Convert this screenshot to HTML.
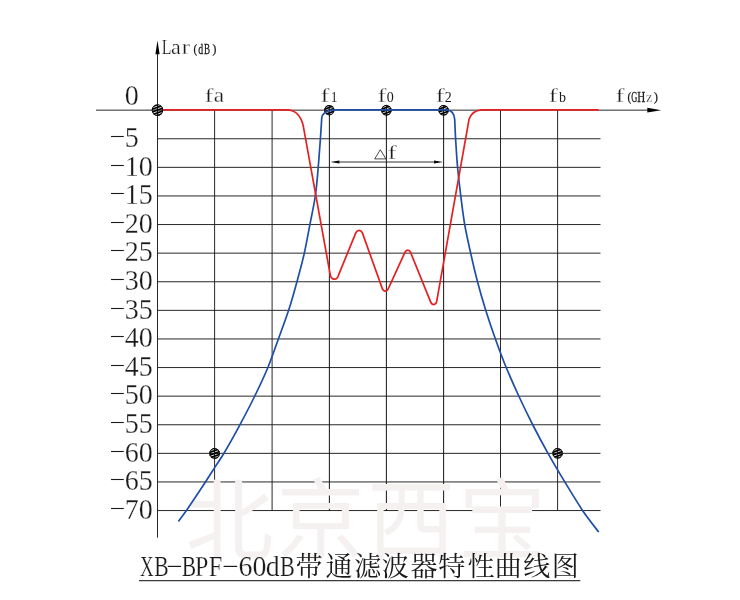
<!DOCTYPE html>
<html><head><meta charset="utf-8"><title>XB-BPF-60dB</title>
<style>
html,body{margin:0;padding:0;background:#fff;}
body{width:740px;height:600px;overflow:hidden;font-family:"Liberation Serif",serif;}
svg{display:block;will-change:transform;}
</style></head><body>
<svg width="740" height="600" viewBox="0 0 740 600">
<rect width="740" height="600" fill="#fff"/>
<g stroke="#1c1c1c" stroke-width="0.95" fill="none">
<line x1="157.5" y1="138.75" x2="600.5" y2="138.75"/>
<line x1="157.5" y1="167.35" x2="600.5" y2="167.35"/>
<line x1="157.5" y1="195.95" x2="600.5" y2="195.95"/>
<line x1="157.5" y1="224.55" x2="600.5" y2="224.55"/>
<line x1="157.5" y1="253.15" x2="600.5" y2="253.15"/>
<line x1="157.5" y1="281.75" x2="600.5" y2="281.75"/>
<line x1="157.5" y1="310.35" x2="600.5" y2="310.35"/>
<line x1="157.5" y1="338.95" x2="600.5" y2="338.95"/>
<line x1="157.5" y1="367.55" x2="600.5" y2="367.55"/>
<line x1="157.5" y1="396.15" x2="600.5" y2="396.15"/>
<line x1="157.5" y1="424.75" x2="600.5" y2="424.75"/>
<line x1="157.5" y1="453.35" x2="600.5" y2="453.35"/>
<line x1="157.5" y1="481.95" x2="600.5" y2="481.95"/>
<line x1="157.5" y1="510.55" x2="600.5" y2="510.55"/>
<line x1="214.60" y1="110.2" x2="214.60" y2="510.6"/>
<line x1="272.10" y1="110.2" x2="272.10" y2="510.6"/>
<line x1="329.40" y1="110.2" x2="329.40" y2="510.6"/>
<line x1="386.40" y1="110.2" x2="386.40" y2="510.6"/>
<line x1="443.60" y1="110.2" x2="443.60" y2="510.6"/>
<line x1="500.50" y1="110.2" x2="500.50" y2="510.6"/>
<line x1="557.60" y1="110.2" x2="557.60" y2="510.6"/>
<line x1="96" y1="110.15" x2="650" y2="110.15"/>
<line x1="157.50" y1="50" x2="157.50" y2="537.6"/>
</g>
<g stroke="#000" stroke-width="0.25">
<line x1="329.40" y1="110.2" x2="329.40" y2="510.6"/>
<line x1="386.40" y1="110.2" x2="386.40" y2="510.6"/>
<line x1="443.60" y1="110.2" x2="443.60" y2="510.6"/>
</g>
<g fill="#000">
<path d="M157.5 40.6 L155.4 54.2 L159.6 54.2Z"/>
<path d="M661.2 110.2 L647.3 107.8 L647.3 112.6Z"/>
<path d="M330.4 162.0 L339.4 160.4 L339.4 163.6Z"/>
<path d="M443 162.0 L434 160.4 L434 163.6Z"/>
</g>
<line x1="336" y1="162.0" x2="437" y2="162.0" stroke="#1c1c1c" stroke-width="0.9"/>
<g fill="#f6f1f1" font-family="'Liberation Sans', 'Noto Sans CJK SC', sans-serif" font-size="88">
<text x="185.5" y="551.5">北</text>
<text x="276.5" y="551.5">京</text>
<text x="367.3" y="551.5">西</text>
<text x="458.3" y="551.5">宝</text>
</g>
<defs><clipPath id="dc"><circle r="5.6"/></clipPath></defs>
<g transform="translate(157.5 110.1)"><circle r="5.7" fill="#000"/><g clip-path="url(#dc)" stroke="#fff" stroke-width="0.8" transform="rotate(-20)"><path d="M-7 -3.9H7M-7 -1.3H7M-7 1.3H7M-7 3.9H7"/></g><circle r="5.3" fill="none" stroke="#000" stroke-width="0.9"/><path d="M-5.7 0H5.7M0 -5.7V5.7" stroke="#000" stroke-width="0.9"/></g>
<g transform="translate(329.3 110.2)"><circle r="5.1" fill="#000"/><g clip-path="url(#dc)" stroke="#fff" stroke-width="0.8" transform="rotate(-20)"><path d="M-7 -3.9H7M-7 -1.3H7M-7 1.3H7M-7 3.9H7"/></g><circle r="4.7" fill="none" stroke="#000" stroke-width="0.9"/><path d="M-5.1 0H5.1M0 -5.1V5.1" stroke="#000" stroke-width="0.9"/></g>
<g transform="translate(386.4 110.2)"><circle r="5.2" fill="#000"/><g clip-path="url(#dc)" stroke="#fff" stroke-width="0.8" transform="rotate(-20)"><path d="M-7 -3.9H7M-7 -1.3H7M-7 1.3H7M-7 3.9H7"/></g><circle r="4.8" fill="none" stroke="#000" stroke-width="0.9"/><path d="M-5.2 0H5.2M0 -5.2V5.2" stroke="#000" stroke-width="0.9"/></g>
<g transform="translate(443.6 110.2)"><circle r="5.2" fill="#000"/><g clip-path="url(#dc)" stroke="#fff" stroke-width="0.8" transform="rotate(-20)"><path d="M-7 -3.9H7M-7 -1.3H7M-7 1.3H7M-7 3.9H7"/></g><circle r="4.8" fill="none" stroke="#000" stroke-width="0.9"/><path d="M-5.2 0H5.2M0 -5.2V5.2" stroke="#000" stroke-width="0.9"/></g>
<g transform="translate(214.6 453.4)"><circle r="5.3" fill="#000"/><g clip-path="url(#dc)" stroke="#fff" stroke-width="0.8" transform="rotate(-20)"><path d="M-7 -3.9H7M-7 -1.3H7M-7 1.3H7M-7 3.9H7"/></g><circle r="4.9" fill="none" stroke="#000" stroke-width="0.9"/><path d="M-5.3 0H5.3M0 -5.3V5.3" stroke="#000" stroke-width="0.9"/></g>
<g transform="translate(557.6 453.3)"><circle r="5.2" fill="#000"/><g clip-path="url(#dc)" stroke="#fff" stroke-width="0.8" transform="rotate(-20)"><path d="M-7 -3.9H7M-7 -1.3H7M-7 1.3H7M-7 3.9H7"/></g><circle r="4.8" fill="none" stroke="#000" stroke-width="0.9"/><path d="M-5.2 0H5.2M0 -5.2V5.2" stroke="#000" stroke-width="0.9"/></g>
<path d="M178.5 521.4 C179.8 519.5 182.9 515.5 186.6 510.2 C190.3 504.9 195.8 496.6 200.5 489.5 C205.2 482.4 210.7 473.7 214.6 467.6 C218.5 461.5 219.9 460.1 224.1 453.0 C228.3 445.9 234.8 434.3 239.9 424.8 C245.0 415.3 250.1 405.6 254.8 396.0 C259.5 386.4 263.9 377.1 267.9 367.5 C271.8 357.9 275.0 348.3 278.5 338.7 C282.0 329.1 285.6 319.6 288.7 310.1 C291.8 300.6 294.4 291.0 297.0 281.5 C299.6 272.0 302.2 262.7 304.3 253.2 C306.4 243.7 308.1 234.1 309.9 224.6 C311.7 215.1 313.9 205.5 315.3 196.0 C316.7 186.5 317.4 177.1 318.2 167.5 C319.0 157.9 319.8 146.8 320.4 138.7 C321.0 130.5 321.5 121.9 321.7 118.6 C321.9 114.5 324.5 110.6 333.5 109.8 L447.0 109.8 C451.2 110.2 454.2 113.4 454.7 119.4 C454.9 122.6 455.1 130.7 455.6 138.7 C456.1 146.7 456.7 157.9 457.6 167.5 C458.5 177.1 459.6 186.7 460.8 196.2 C462.0 205.7 463.1 215.0 464.7 224.5 C466.3 234.0 468.6 243.7 470.7 253.2 C472.8 262.8 475.0 272.2 477.5 281.8 C480.0 291.3 482.8 300.9 485.8 310.5 C488.8 320.1 492.1 329.8 495.5 339.2 C498.9 348.8 502.3 358.0 506.2 367.5 C510.2 377.0 514.6 387.0 519.0 396.5 C523.4 406.0 527.8 415.0 532.6 424.5 C537.4 434.0 542.6 443.7 548.0 453.3 C553.4 462.9 559.0 472.3 564.8 481.9 C570.6 491.5 577.1 502.3 582.7 510.7 C588.4 519.0 596.0 528.5 598.7 532.0" fill="none" stroke="#1f4fa5" stroke-width="1.7" stroke-linejoin="round"/>
<path d="M163 109.8 L288.3 109.8 C294 110.2 300.6 114.5 303.2 125.6 L330.2 274.6 C331.2 280.6 337.2 280.6 338.4 275.4 L355.9 232.6 C357.4 229.6 360.8 229.6 362.3 232.6 L382.3 288.6 C383.4 292 387.2 292 388.3 288.6 L405.0 252.2 C406.2 249.4 409.3 249.4 410.5 252.2 L430.5 301.6 C431.6 305.6 435.8 305.6 436.7 301.4 L469.0 119.6 C471 112.6 476 110.2 481.6 109.8 L598.6 109.8" fill="none" stroke="#e52020" stroke-width="1.7" stroke-linejoin="round"/>
<g font-family="'Liberation Serif', serif" fill="#1a1a1a" stroke="#fff" stroke-width="0.25">
<text transform="translate(124.80 105.40) scale(0.935 1)" font-size="30.0">0</text>
<line x1="111" y1="136.50" x2="123.8" y2="136.50" stroke="#1a1a1a" stroke-width="1.1"/>
<text transform="translate(124.80 147.00) scale(0.935 1)" font-size="30.0">5</text>
<line x1="111" y1="165.50" x2="123.8" y2="165.50" stroke="#1a1a1a" stroke-width="1.1"/>
<text transform="translate(124.80 175.60) scale(0.935 1)" font-size="30.0">1</text>
<text transform="translate(138.80 175.60) scale(0.935 1)" font-size="30.0">0</text>
<line x1="111" y1="193.50" x2="123.8" y2="193.50" stroke="#1a1a1a" stroke-width="1.1"/>
<text transform="translate(124.80 204.20) scale(0.935 1)" font-size="30.0">1</text>
<text transform="translate(138.80 204.20) scale(0.935 1)" font-size="30.0">5</text>
<line x1="111" y1="222.50" x2="123.8" y2="222.50" stroke="#1a1a1a" stroke-width="1.1"/>
<text transform="translate(124.80 232.80) scale(0.935 1)" font-size="30.0">2</text>
<text transform="translate(138.80 232.80) scale(0.935 1)" font-size="30.0">0</text>
<line x1="111" y1="250.50" x2="123.8" y2="250.50" stroke="#1a1a1a" stroke-width="1.1"/>
<text transform="translate(124.80 261.40) scale(0.935 1)" font-size="30.0">2</text>
<text transform="translate(138.80 261.40) scale(0.935 1)" font-size="30.0">5</text>
<line x1="111" y1="279.50" x2="123.8" y2="279.50" stroke="#1a1a1a" stroke-width="1.1"/>
<text transform="translate(124.80 290.00) scale(0.935 1)" font-size="30.0">3</text>
<text transform="translate(138.80 290.00) scale(0.935 1)" font-size="30.0">0</text>
<line x1="111" y1="308.50" x2="123.8" y2="308.50" stroke="#1a1a1a" stroke-width="1.1"/>
<text transform="translate(124.80 318.60) scale(0.935 1)" font-size="30.0">3</text>
<text transform="translate(138.80 318.60) scale(0.935 1)" font-size="30.0">5</text>
<line x1="111" y1="336.50" x2="123.8" y2="336.50" stroke="#1a1a1a" stroke-width="1.1"/>
<text transform="translate(124.80 347.20) scale(0.935 1)" font-size="30.0">4</text>
<text transform="translate(138.80 347.20) scale(0.935 1)" font-size="30.0">0</text>
<line x1="111" y1="365.50" x2="123.8" y2="365.50" stroke="#1a1a1a" stroke-width="1.1"/>
<text transform="translate(124.80 375.80) scale(0.935 1)" font-size="30.0">4</text>
<text transform="translate(138.80 375.80) scale(0.935 1)" font-size="30.0">5</text>
<line x1="111" y1="393.50" x2="123.8" y2="393.50" stroke="#1a1a1a" stroke-width="1.1"/>
<text transform="translate(124.80 404.40) scale(0.935 1)" font-size="30.0">5</text>
<text transform="translate(138.80 404.40) scale(0.935 1)" font-size="30.0">0</text>
<line x1="111" y1="422.50" x2="123.8" y2="422.50" stroke="#1a1a1a" stroke-width="1.1"/>
<text transform="translate(124.80 433.00) scale(0.935 1)" font-size="30.0">5</text>
<text transform="translate(138.80 433.00) scale(0.935 1)" font-size="30.0">5</text>
<line x1="111" y1="451.50" x2="123.8" y2="451.50" stroke="#1a1a1a" stroke-width="1.1"/>
<text transform="translate(124.80 461.60) scale(0.935 1)" font-size="30.0">6</text>
<text transform="translate(138.80 461.60) scale(0.935 1)" font-size="30.0">0</text>
<line x1="111" y1="479.50" x2="123.8" y2="479.50" stroke="#1a1a1a" stroke-width="1.1"/>
<text transform="translate(124.80 490.20) scale(0.935 1)" font-size="30.0">6</text>
<text transform="translate(138.80 490.20) scale(0.935 1)" font-size="30.0">5</text>
<line x1="111" y1="508.50" x2="123.8" y2="508.50" stroke="#1a1a1a" stroke-width="1.1"/>
<text transform="translate(124.80 518.80) scale(0.935 1)" font-size="30.0">7</text>
<text transform="translate(138.80 518.80) scale(0.935 1)" font-size="30.0">0</text>
<text transform="translate(161.70 54.10) scale(0.790 1)" font-size="20.0">L</text>
<text transform="translate(171.00 54.10) scale(1.100 1)" font-size="20.0">a</text>
<text transform="translate(181.80 54.10) scale(1.230 1)" font-size="20.0">r</text>
<text transform="translate(193.60 52.80) scale(0.830 1)" font-size="13.2" stroke="#1a1a1a" stroke-width="0.3">(</text>
<text transform="translate(198.20 53.90) scale(0.700 1)" font-size="14.0" stroke="#1a1a1a" stroke-width="0.3">d</text>
<text transform="translate(204.05 53.90) scale(0.645 1)" font-size="14.0" stroke="#1a1a1a" stroke-width="0.3">B</text>
<text transform="translate(212.50 52.80) scale(0.880 1)" font-size="13.2" stroke="#1a1a1a" stroke-width="0.3">)</text>
<text transform="translate(204.50 101.90) scale(1.420 1)" font-size="18.8">f</text>
<text transform="translate(213.80 101.90) scale(1.170 1)" font-size="20.0">a</text>
<text transform="translate(320.40 101.90) scale(1.420 1)" font-size="18.8">f</text>
<text transform="translate(330.90 101.90) scale(0.900 1)" font-size="14.0" stroke="none">1</text>
<text transform="translate(377.40 101.90) scale(1.420 1)" font-size="18.8">f</text>
<text transform="translate(386.70 101.90) scale(1.000 1)" font-size="14.0" stroke="none">0</text>
<text transform="translate(435.80 101.90) scale(1.420 1)" font-size="18.8">f</text>
<text transform="translate(444.80 101.90) scale(1.000 1)" font-size="14.0" stroke="none">2</text>
<text transform="translate(548.70 101.90) scale(1.420 1)" font-size="18.8">f</text>
<text transform="translate(558.90 101.90) scale(1.000 1)" font-size="14.0" stroke="none">b</text>
<text transform="translate(615.60 102.00) scale(1.420 1)" font-size="18.8">f</text>
<text transform="translate(627.50 100.50) scale(0.830 1)" font-size="13.3" stroke="#1a1a1a" stroke-width="0.3">(</text>
<text transform="translate(631.20 101.90) scale(0.560 1)" font-size="15.0" stroke="#1a1a1a" stroke-width="0.3">G</text>
<text transform="translate(637.30 101.90) scale(0.735 1)" font-size="15.0" stroke="#1a1a1a" stroke-width="0.3">H</text>
<text transform="translate(646.10 101.90) scale(1.040 1)" font-size="14.0">z</text>
<text transform="translate(654.00 100.50) scale(0.880 1)" font-size="13.3" stroke="#1a1a1a" stroke-width="0.3">)</text>
<path d="M374.7 158.9 L385.9 158.9 L380.3 149.7Z" fill="none" stroke="#1a1a1a" stroke-width="0.8"/>
<text transform="translate(387.80 159.20) scale(1.420 1)" font-size="18.8">f</text>
<text transform="translate(139.90 576.00) scale(0.630 1)" font-size="30.0">X</text>
<text transform="translate(154.20 576.00) scale(0.720 1)" font-size="30.0">B</text>
<text transform="translate(181.70 576.00) scale(0.720 1)" font-size="30.0">B</text>
<text transform="translate(194.90 576.00) scale(0.800 1)" font-size="30.0">P</text>
<text transform="translate(208.80 576.00) scale(0.810 1)" font-size="30.0">F</text>
<text transform="translate(238.60 576.00) scale(0.930 1)" font-size="30.0">6</text>
<text transform="translate(252.60 576.00) scale(0.930 1)" font-size="30.0">0</text>
<text transform="translate(265.80 576.00) scale(0.930 1)" font-size="30.0">d</text>
<text transform="translate(279.90 576.00) scale(0.740 1)" font-size="30.0">B</text>
<line x1="167.8" y1="566.4" x2="181" y2="566.4" stroke="#1a1a1a" stroke-width="1.2"/>
<line x1="223.6" y1="566.4" x2="237.2" y2="566.4" stroke="#1a1a1a" stroke-width="1.2"/>
</g>
<text x="295.56 325.54 354.14 381.65 410.41 438.27 467.39 494.75 523.22 551.83" y="576.3" font-family="'Liberation Serif', 'Noto Serif CJK SC', serif" font-size="27" fill="#1a1a1a">带通滤波器特性曲线图</text>
<line x1="139" y1="580.6" x2="580.3" y2="580.6" stroke="#3a3a3a" stroke-width="1.2"/>
</svg>
</body></html>
